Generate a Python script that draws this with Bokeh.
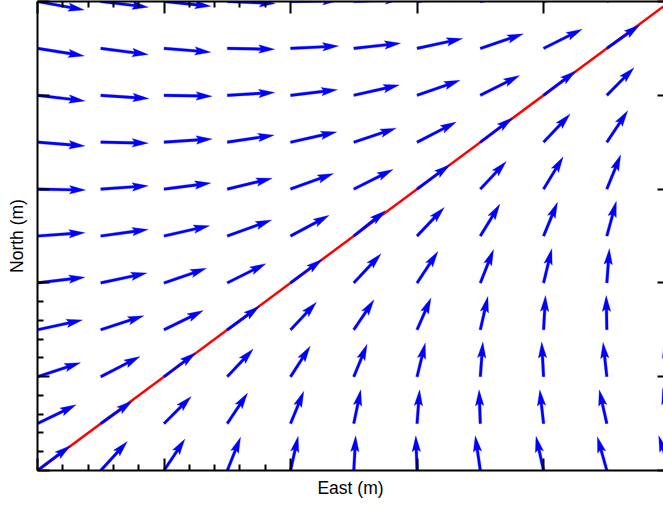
import numpy as np
from bokeh.plotting import figure
from bokeh.models import Range1d, LinearAxis, FixedTicker, CustomJSTickFormatter
from bokeh.embed import file_html
from bokeh.resources import INLINE

# ---- data ----
GRID_X = [0, 1, 2, 3, 4, 5, 6, 7, 8, 9, 10]
GRID_Y = [0, 1, 2, 3, 4, 5, 6, 7, 8, 9, 10]

# U[row][col], V[row][col]  (row = North index, col = East index)
U = [
    [0.52, 0.42, 0.33, 0.21, 0.12, 0.03, -0.02, -0.08, -0.12, -0.15, -0.18],
    [0.61, 0.50, 0.43, 0.32, 0.21, 0.11, 0.04, -0.02, -0.06, -0.12, -0.12],
    [0.68, 0.62, 0.50, 0.41, 0.31, 0.21, 0.13, 0.04, -0.03, -0.06, -0.10],
    [0.71, 0.68, 0.62, 0.51, 0.41, 0.32, 0.22, 0.12, 0.03, -0.01, -0.04],
    [0.75, 0.73, 0.67, 0.61, 0.50, 0.43, 0.33, 0.21, 0.13, 0.04, 0.02],
    [0.75, 0.75, 0.72, 0.70, 0.61, 0.50, 0.43, 0.31, 0.22, 0.15, 0.05],
    [0.76, 0.75, 0.74, 0.71, 0.68, 0.62, 0.52, 0.41, 0.31, 0.22, 0.12],
    [0.75, 0.75, 0.76, 0.74, 0.73, 0.67, 0.62, 0.51, 0.42, 0.33, 0.21],
    [0.75, 0.76, 0.76, 0.75, 0.74, 0.72, 0.68, 0.62, 0.51, 0.43, 0.31],
    [0.74, 0.75, 0.74, 0.75, 0.76, 0.74, 0.72, 0.68, 0.61, 0.52, 0.41],
    [0.74, 0.75, 0.74, 0.76, 0.76, 0.75, 0.74, 0.72, 0.68, 0.61, 0.52],
]
V = [
    [0.53, 0.62, 0.67, 0.71, 0.73, 0.74, 0.74, 0.74, 0.73, 0.72, 0.74],
    [0.40, 0.48, 0.58, 0.65, 0.69, 0.72, 0.72, 0.72, 0.72, 0.72, 0.75],
    [0.30, 0.43, 0.51, 0.59, 0.65, 0.69, 0.72, 0.74, 0.74, 0.73, 0.74],
    [0.21, 0.30, 0.41, 0.50, 0.59, 0.64, 0.68, 0.71, 0.73, 0.73, 0.76],
    [0.12, 0.21, 0.31, 0.41, 0.50, 0.62, 0.67, 0.71, 0.73, 0.73, 0.76],
    [0.07, 0.14, 0.22, 0.34, 0.44, 0.54, 0.61, 0.68, 0.72, 0.74, 0.74],
    [-0.02, 0.07, 0.13, 0.23, 0.33, 0.42, 0.52, 0.59, 0.69, 0.73, 0.74],
    [-0.08, -0.02, 0.07, 0.15, 0.22, 0.30, 0.43, 0.52, 0.60, 0.67, 0.72],
    [-0.12, -0.07, -0.02, 0.06, 0.12, 0.22, 0.32, 0.42, 0.52, 0.59, 0.68],
    [-0.16, -0.13, -0.08, -0.02, 0.05, 0.11, 0.21, 0.31, 0.41, 0.50, 0.61],
    [-0.18, -0.12, -0.10, -0.04, 0.02, 0.05, 0.12, 0.21, 0.31, 0.41, 0.52],
]

LINE_X = [0, 10]
LINE_Y = [0, 10]

MAJOR_TICKS = [0, 2, 4, 6, 8, 10]
MINOR_TICKS = [0.4, 0.8, 1.2, 1.6, 2.4, 2.8, 3.2, 3.6]

# ---- layout ----
W, H = 663, 500
B_LEFT, B_RIGHT, B_TOP, B_BOTTOM = 37, 0, 1, 28
FW = W - B_LEFT - B_RIGHT
FH = H - B_TOP - B_BOTTOM
PX_PER_X, PX_PER_Y = 63.26, 47.1
X_END = FW / PX_PER_X
Y_END = FH / PX_PER_Y
SX = FW / X_END
SY = FH / Y_END

p = figure(width=W, height=H, x_range=Range1d(0, X_END), y_range=Range1d(0, Y_END),
           output_backend="svg", toolbar_location=None,
           x_axis_location=None, y_axis_location=None,
           min_border_left=B_LEFT, min_border_right=B_RIGHT,
           min_border_top=B_TOP, min_border_bottom=B_BOTTOM)
p.grid.visible = False
p.outline_line_color = None
p.background_fill_color = "white"
p.border_fill_color = "white"

# red line
p.line(LINE_X, LINE_Y, line_color="#ff0000", line_width=2.5)

# arrows (quiver-style polygons)
SHAFT_W, HEAD_W, HEAD_L, HEAD_AL = 2.7, 8.5, 16.0, 14.0
xs, ys = [], []
for r, yv in enumerate(GRID_Y):
    for c, xv in enumerate(GRID_X):
        px, py = U[r][c] * SX, V[r][c] * SY
        L = np.hypot(px, py)
        dx, dy = px / L, py / L
        nx, ny = -dy, dx
        pts = [(0, -SHAFT_W / 2), (L - HEAD_AL, -SHAFT_W / 2), (L - HEAD_L, -HEAD_W / 2),
               (L, 0), (L - HEAD_L, HEAD_W / 2), (L - HEAD_AL, SHAFT_W / 2), (0, SHAFT_W / 2)]
        xs.append([xv + (a * dx + b * nx) / SX for a, b in pts])
        ys.append([yv + (a * dy + b * ny) / SY for a, b in pts])
p.patches(xs, ys, fill_color="#0000ff", line_color="#0000ff", line_width=0.3)

blank = CustomJSTickFormatter(code="return ''")


def style(ax, minor=True, line=True, tick_in=12, minor_in=6):
    ax.ticker = FixedTicker(ticks=MAJOR_TICKS, minor_ticks=MINOR_TICKS if minor else [])
    ax.formatter = blank
    ax.major_label_text_font_size = "0px"
    ax.major_label_standoff = 0
    ax.major_tick_in = tick_in
    ax.major_tick_out = 0
    ax.minor_tick_in = minor_in
    ax.minor_tick_out = 0
    ax.major_tick_line_width = 2
    ax.minor_tick_line_width = 2
    ax.major_tick_line_color = "black"
    ax.minor_tick_line_color = "black"
    ax.axis_line_width = 2
    ax.axis_line_color = "black" if line else None
    ax.axis_label_text_font = "Liberation Sans"
    ax.axis_label_text_font_size = "17.5px"
    ax.axis_label_text_font_style = "normal"
    ax.axis_label_text_color = "black"


bottom = LinearAxis(axis_label="East (m)")
style(bottom)
bottom.axis_label_standoff = 7
left = LinearAxis(axis_label="North (m)")
style(left)
left.axis_label_standoff = 11
top = LinearAxis()
style(top)
right = LinearAxis()
style(right, minor=False, line=False, tick_in=6)

p.add_layout(bottom, "below")
p.add_layout(left, "left")
p.add_layout(top, "above")
p.add_layout(right, "right")

open("out.html", "w").write(file_html(p, INLINE))
